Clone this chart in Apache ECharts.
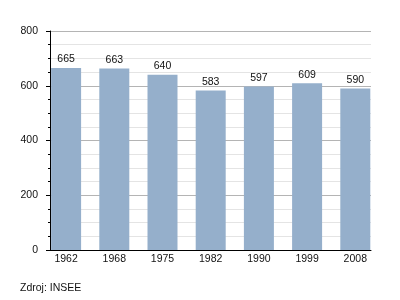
<!DOCTYPE html>
<html><head><meta charset="utf-8">
<script src="https://cdn.jsdelivr.net/npm/echarts@6/dist/echarts.min.js"></script>
<style>html,body{margin:0;padding:0;background:#fff}#c{width:400px;height:300px}</style>
</head><body><div id="c"></div>
<script>
var categories = ['1962','1968','1975','1982','1990','1999','2008'];
var population = [665, 663, 640, 583, 597, 609, 590];
var yTicks = [0, 200, 400, 600, 800];
var sourceText = 'Zdroj: INSEE';

var chart = echarts.init(document.getElementById('c'), null, {renderer:'canvas'});
var font = 'Liberation Sans, Arial, sans-serif';
chart.setOption({
  animation: false,
  grid: [
    {left: 50, top: 31, right: 29, bottom: 50},
    {left: 42, top: 31, width: 337.4, bottom: 50}
  ],
  xAxis: [
    {gridIndex: 0, type: 'value', min: 0, max: 1, show: true,
     axisLine: {show: true, onZero: false, lineStyle: {color: '#000', width: 1}},
     axisTick: {show: false}, axisLabel: {show: false}, splitLine: {show: false}},
    {gridIndex: 1, type: 'category', data: categories, boundaryGap: true,
     axisLine: {show: false}, axisTick: {show: false},
     axisLabel: {color: '#111', fontSize: 10.5, fontFamily: font, margin: 4}}
  ],
  yAxis: [
    {gridIndex: 0, type: 'value', min: yTicks[0], max: yTicks[yTicks.length-1], interval: 200,
     axisLine: {show: true, lineStyle: {color: '#000', width: 1}},
     axisTick: {show: true, length: 4, lineStyle: {color: '#000'}},
     minorTick: {show: true, splitNumber: 4, length: 2, lineStyle: {color: '#000'}},
     axisLabel: {color: '#111', fontSize: 10.5, fontFamily: font, margin: 12},
     splitLine: {show: true, lineStyle: {color: '#b4b4b4', width: 1}},
     minorSplitLine: {show: true, lineStyle: {color: '#e4e4e4', width: 1}}},
    {gridIndex: 1, type: 'value', min: 0, max: 800, show: false, splitLine: {show: false}}
  ],
  series: [{
    type: 'bar', xAxisIndex: 1, yAxisIndex: 1, data: population, barWidth: 30,
    itemStyle: {color: '#95afcb'},
    label: {show: true, position: 'top', distance: 3, color: '#111', fontSize: 10.5, fontFamily: font}
  }],
  graphic: [{type: 'text', left: 20, top: 283,
    style: {text: sourceText, fill: '#111', font: '10.5px ' + font}}]
});
</script></body></html>
